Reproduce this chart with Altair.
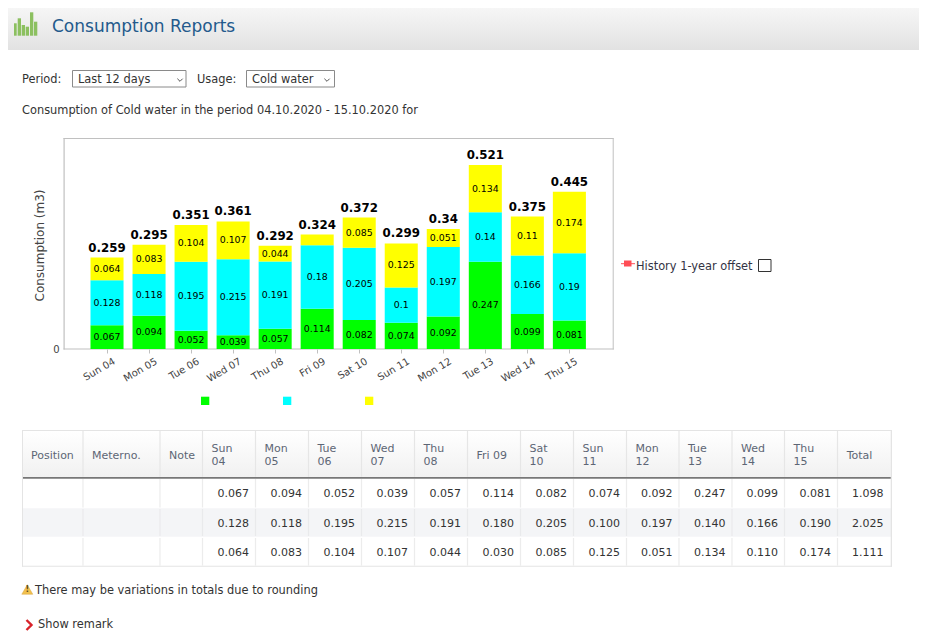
import altair as alt
import pandas as pd

# ---------- values ----------
days = ["Sun 04", "Mon 05", "Tue 06", "Wed 07", "Thu 08", "Fri 09",
        "Sat 10", "Sun 11", "Mon 12", "Tue 13", "Wed 14", "Thu 15"]
green = [0.067, 0.094, 0.052, 0.039, 0.057, 0.114, 0.082, 0.074, 0.092, 0.247, 0.099, 0.081]
cyan = [0.128, 0.118, 0.195, 0.215, 0.191, 0.180, 0.205, 0.100, 0.197, 0.140, 0.166, 0.190]
yellow = [0.064, 0.083, 0.104, 0.107, 0.044, 0.030, 0.085, 0.125, 0.051, 0.134, 0.110, 0.174]
totals = [0.259, 0.295, 0.351, 0.361, 0.292, 0.324, 0.372, 0.299, 0.34, 0.521, 0.375, 0.445]
row_totals = ["1.098", "2.025", "1.111"]
head_cols = ["Position", "Meterno.", "Note"]

FONT = "DejaVu Sans"
W, H = 911, 623
OX, OY = 8, 8  # page margin


def px(v):
    return v - OX


def py(v):
    return v - OY


X = lambda f: alt.X(f, scale=None, axis=None)
Y = lambda f: alt.Y(f, scale=None, axis=None)

# ---------- page furniture ----------
header = alt.Chart(pd.DataFrame([{"x": 0, "x2": W, "y": 0, "y2": py(50)}])).mark_rect(
    fill=alt.LinearGradient(gradient="linear", x1=0, x2=0, y1=0, y2=1,
                            stops=[alt.GradientStop(offset=0, color="#f6f6f6"),
                                   alt.GradientStop(offset=1, color="#e2e2e2")])
).encode(x=X("x:Q"), x2="x2:Q", y=Y("y:Q"), y2="y2:Q")

col_edges = [22, 83, 160, 202.5, 255.5, 308.5, 361.5, 414.5, 467.5, 520.5,
             573.5, 626.5, 679, 732, 784.5, 837.5, 891]
row_centers = [493, 523, 552]

rects = []


def rect(x, x2, y, y2, fill):
    rects.append({"x": px(x), "x2": px(x2), "y": py(y), "y2": py(y2), "fill": fill, "o": len(rects)})


# table body
rect(22, 892, 508.3, 536.7, "#f4f5f7")
rect(22, 892, 477, 478.7, "#777777")
# outer edges
rect(22, 892, 430, 431, "#e4e4e4")
rect(22, 892, 565.7, 566.7, "#e4e4e4")
rect(22, 23, 430, 566.7, "#e4e4e4")
rect(890.7, 892, 430, 566.7, "#e4e4e4")
# column separators
for e in col_edges[1:-1]:
    rect(e - 0.6, e + 0.6, 431, 476.8, "#e6e6e6")
    rect(e - 0.6, e + 0.6, 479, 507.5, "#ececec")
    rect(e - 0.6, e + 0.6, 509, 536, "#e9eaec")
    rect(e - 0.6, e + 0.6, 538, 565.7, "#ececec")
# chart frame
rect(63.5, 64.7, 138, 349.5, "#c0c0c0")
rect(63.5, 613.5, 138, 139, "#c0c0c0")
rect(612.7, 613.7, 138, 349.5, "#c0c0c0")
rect(63.5, 613.7, 348.6, 349.6, "#c0c0c0")
# colour keys below the chart
rect(201, 209.3, 396.7, 405, "#00ff00")
rect(283, 291.3, 396.7, 405, "#00ffff")
rect(365, 373.3, 396.7, 405, "#ffff00")
# history legend
rect(621, 635, 263.2, 264.2, "#ff4d55")
rect(624, 631.5, 260.5, 266.5, "#ff4d55")
# app icon bars
for bx, bx2, by in [(14, 16.7, 23.3), (17.7, 21, 18.3), (21.7, 25, 25), (25.7, 29, 26.7),
                    (30, 33.3, 12.3), (34, 37.3, 21.7)]:
    rect(bx, bx2, by, 35.7, "#8cc060")

rect_df = pd.DataFrame(rects)
flat = alt.Chart(rect_df).mark_rect().encode(
    x=X("x:Q"), x2="x2:Q", y=Y("y:Q"), y2="y2:Q",
    fill=alt.Fill("fill:N", scale=None), order="o:Q")

# table header background
thead = alt.Chart(pd.DataFrame([{"x": px(23), "x2": px(890.7), "y": py(431), "y2": py(477)}])).mark_rect(
    fill=alt.LinearGradient(gradient="linear", x1=0, x2=0, y1=0, y2=1,
                            stops=[alt.GradientStop(offset=0, color="#ffffff"),
                                   alt.GradientStop(offset=1, color="#f1f1f1")])
).encode(x=X("x:Q"), x2="x2:Q", y=Y("y:Q"), y2="y2:Q")

# outlined boxes: dropdowns and checkbox
boxes = pd.DataFrame([
    {"x": px(72.5), "x2": px(186), "y": py(70.5), "y2": py(87), "c": "#8a8a8a"},
    {"x": px(246.5), "x2": px(334.5), "y": py(70.5), "y2": py(87), "c": "#8a8a8a"},
    {"x": px(758.5), "x2": px(771), "y": py(259.5), "y2": py(271.5), "c": "#333333"},
])
box = alt.Chart(boxes).mark_rect(fill="white", strokeWidth=1).encode(
    x=X("x:Q"), x2="x2:Q", y=Y("y:Q"), y2="y2:Q", stroke=alt.Stroke("c:N", scale=None))

# ---------- texts ----------
texts = []


def t(s, x, y, size=11.4, color="#333333", align="left", weight="normal"):
    texts.append({"s": s, "x": px(x), "y": py(y + 1), "size": size, "c": color,
                  "a": align, "w": weight})


t("Consumption Reports", 52, 26, 17, "#235a8c")
t("Period:", 22, 79)
t("Last 12 days", 78, 79)
t("Usage:", 197, 79)
t("Cold water", 252, 79)
t("Consumption of Cold water in the period 04.10.2020 - 15.10.2020 for", 22, 110)
t("History 1-year offset", 636, 266, 11.4, "#333344")
t("There may be variations in totals due to rounding", 35, 590)
t("Show remark", 38, 623.5)

HEAD = "#5d6675"
t("Position", 31, 455, 11, HEAD)
t("Meterno.", 92, 455, 11, HEAD)
t("Note", 169, 455, 11, HEAD)
for i, d in enumerate(days):
    left = col_edges[3 + i]
    a, b = d.split()
    if d == "Fri 09":
        t(d, left + 9, 455, 11, HEAD)
    else:
        t(a, left + 9, 448, 11, HEAD)
        t(b, left + 9, 461, 11, HEAD)
t("Total", 846.7, 455, 11, HEAD)
for r, series in enumerate([green, cyan, yellow]):
    for i, v in enumerate(series):
        t(f"{v:.3f}", col_edges[4 + i] - 6.5, row_centers[r], 11, "#333333", "right")
    t(row_totals[r], 883.5, row_centers[r], 11, "#333333", "right")

text_df = pd.DataFrame(texts)
text_layers = []
for (size, c, a, w), g in text_df.groupby(["size", "c", "a", "w"]):
    text_layers.append(
        alt.Chart(g).mark_text(font=FONT, fontSize=size, color=c, align=a, fontWeight=w,
                               baseline="middle").encode(x=X("x:Q"), y=Y("y:Q"), text="s:N"))

# small glyphs
chev = "M-1,-0.5L0,0.5L1,-0.5"
glyphs = pd.DataFrame([{"x": px(180), "y": py(80)}, {"x": px(327), "y": py(80)}])
chevrons = alt.Chart(glyphs).mark_point(shape=chev, size=28, filled=False, stroke="#555555",
                                        strokeWidth=1, opacity=1).encode(x=X("x:Q"), y=Y("y:Q"))
warn = alt.Chart(pd.DataFrame([{"x": px(27.3), "y": py(589.5)}])).mark_point(
    shape="triangle-up", size=120, filled=True, fill="#f2c14e", opacity=1, stroke="#d9a441",
    strokeWidth=0.5).encode(x=X("x:Q"), y=Y("y:Q"))
warn_mark = alt.Chart(pd.DataFrame([{"x": px(27.3), "y": py(590), "s": "!"}])).mark_text(
    font=FONT, fontSize=8, fontWeight="bold", color="#5a4a20", baseline="middle"
).encode(x=X("x:Q"), y=Y("y:Q"), text="s:N")
red = alt.Chart(pd.DataFrame([{"x": px(29), "y": py(625)}])).mark_point(
    shape="M-0.5,-1L0.5,0L-0.5,1", size=100, filled=False, stroke="#d8232a", strokeWidth=2.4,
    opacity=1).encode(x=X("x:Q"), y=Y("y:Q"))

# ---------- the chart ----------
rows = []
for name, order, series in [("Series 1", 0, green), ("Series 2", 1, cyan), ("Series 3", 2, yellow)]:
    for d, v in zip(days, series):
        rows.append({"day": d, "series": name, "order": order, "value": v})
df = pd.DataFrame(rows)

lab = []
for i, d in enumerate(days):
    base = 0.0
    for series in (green, cyan, yellow):
        v = series[i]
        if v > 0.03:
            lab.append({"day": d, "mid": base + v / 2, "label": str(v)})
        base += v
lab_df = pd.DataFrame(lab)
tot_df = pd.DataFrame({"day": days, "total": totals, "label": [str(v) for v in totals]})

x_scale = alt.Scale(domain=days, range=[px(86), px(590.4)], paddingInner=0.214, paddingOuter=0.107)
y_scale = alt.Scale(domain=[0, 0.6], range=[py(349), py(349 - 0.6 * 353.2)], nice=False)

x_axis = alt.Axis(orient="bottom", offset=py(349) - H, domain=False, grid=False,
                  labelAngle=-30, labelAlign="right", labelBaseline="top",
                  labelFont=FONT, labelFontSize=10, labelColor="#444444",
                  labelOffset=5, labelPadding=3, labelOverlap=False,
                  tickColor="#c0c0c0", tickSize=4)
y_axis = alt.Axis(orient="left", offset=-px(64), values=[0], domain=False, grid=False, format="d",
                  ticks=False, labelFont=FONT, labelFontSize=10, labelColor="#444444",
                  labelPadding=5, titleFont=FONT,
                  titleFontSize=12, titleFontWeight="normal", titleColor="#444444",
                  titleX=46 - 64, titleY=py(245))
x_enc = alt.X("day:N", sort=days, scale=x_scale, title=None, axis=x_axis)
Y_TITLE = "Consumption (m3)"

bars = alt.Chart(df).mark_bar(stroke=None).encode(
    x=x_enc,
    y=alt.Y("value:Q", stack="zero", scale=y_scale, axis=y_axis, title=Y_TITLE),
    color=alt.Color("series:N", legend=None,
                    scale=alt.Scale(domain=["Series 1", "Series 2", "Series 3"],
                                    range=["#00ff00", "#00ffff", "#ffff00"])),
    order=alt.Order("order:Q"),
)

seg_labels = alt.Chart(lab_df).mark_text(font=FONT, fontSize=9.4, color="#000000", baseline="middle").encode(
    x=x_enc,
    y=alt.Y("mid:Q", scale=y_scale, axis=y_axis, title=Y_TITLE),
    text="label:N",
)
tot_labels = alt.Chart(tot_df).mark_text(font=FONT, fontSize=11.8, fontWeight="bold", color="#000000",
                                         baseline="middle", dy=-10).encode(
    x=x_enc,
    y=alt.Y("total:Q", scale=y_scale, axis=y_axis, title=Y_TITLE),
    text="label:N",
)

chart = alt.layer(
    header, thead, flat, box, bars, seg_labels, tot_labels, chevrons, warn, warn_mark, red, *text_layers
).properties(width=W, height=H, padding=0, autosize=alt.AutoSizeParams(type="none")).configure_view(stroke=None)

chart.save("out.html", embed_options={"renderer": "svg", "actions": False})
